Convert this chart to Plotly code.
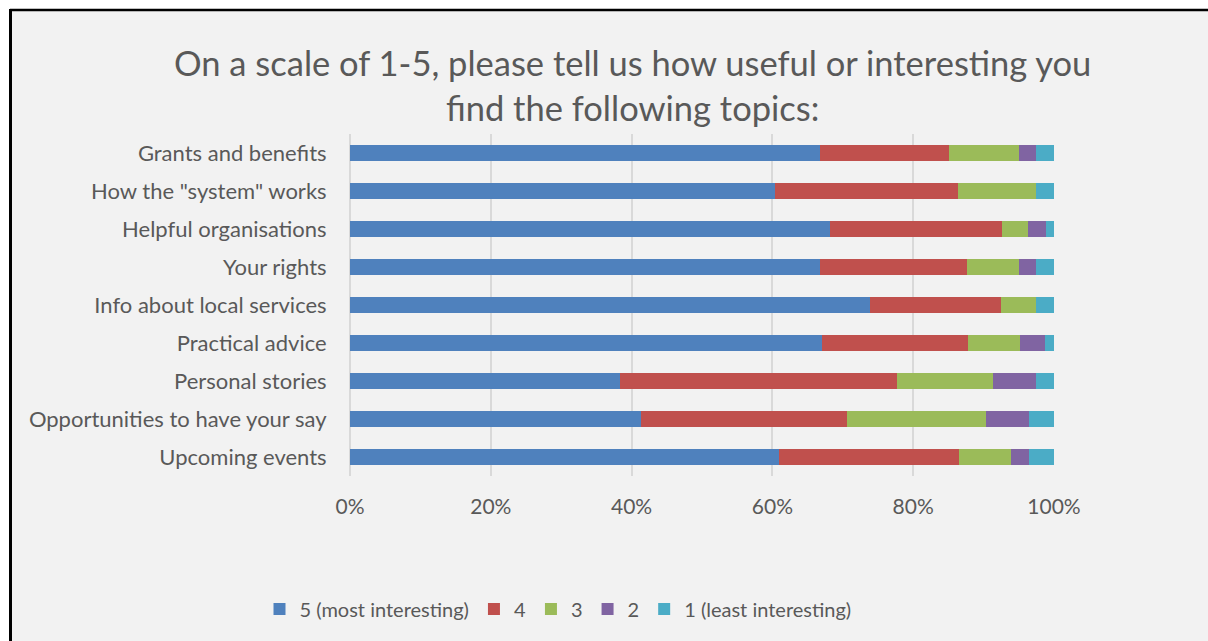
import plotly.graph_objects as go

# Survey topics, listed top to bottom
topics = [
    "Grants and benefits",
    'How the "system" works',
    "Helpful organisations",
    "Your rights",
    "Info about local services",
    "Practical advice",
    "Personal stories",
    "Opportunities to have your say",
    "Upcoming events",
]

# Share of responses (%) for each rating, per topic
rating_5 = [66.7, 60.4, 68.2, 66.7, 73.8, 67.0, 38.3, 41.4, 60.9]
rating_4 = [18.4, 26.0, 24.4, 20.9, 18.7, 20.8, 39.4, 29.2, 25.6]
rating_3 = [9.9, 11.1, 3.7, 7.4, 5.0, 7.3, 13.6, 19.7, 7.4]
rating_2 = [2.5, 0.0, 2.5, 2.5, 0.0, 3.6, 6.2, 6.1, 2.5]
rating_1 = [2.5, 2.5, 1.2, 2.5, 2.5, 1.3, 2.5, 3.6, 3.6]

series_names = ["5 (most interesting)", "4", "3", "2", "1 (least interesting)"]
series_values = [rating_5, rating_4, rating_3, rating_2, rating_1]
series_colors = ["#4f81bd", "#c0504d", "#9bbb59", "#8064a2", "#4bacc6"]

FONT = "Lato"
TEXT = "#595959"
W, H = 1208, 641
ML, MR, MT, MB = 350, 154, 134, 165
PW, PH = W - ML - MR, H - MT - MB


def px_x(x):
    return (x - ML) / PW


def px_y(y):
    return (H - MB - y) / PH


def font(size):
    return dict(family=FONT, size=size, color=TEXT)


fig = go.Figure()
for name, vals, col in zip(series_names, series_values, series_colors):
    fig.add_trace(go.Bar(
        y=topics, x=vals, name=name, orientation="h",
        marker=dict(color=col, line=dict(width=0)),
    ))

# chart area: light grey panel with a dark frame on its top and left edges
frame = [
    dict(type="rect", xref="paper", yref="paper", layer="below",
         x0=px_x(10), x1=px_x(W), y0=px_y(H), y1=px_y(10),
         fillcolor="#f2f2f2", line=dict(width=0)),
    dict(type="line", xref="paper", yref="paper", layer="below",
         x0=px_x(10), x1=px_x(W), y0=px_y(10), y1=px_y(10),
         line=dict(color="black", width=2.5)),
    dict(type="line", xref="paper", yref="paper", layer="below",
         x0=px_x(10.5), x1=px_x(10.5), y0=px_y(9), y1=px_y(H),
         line=dict(color="black", width=3)),
]

fig.update_layout(
    width=W, height=H,
    margin=dict(l=ML, r=MR, t=MT, b=MB, pad=0),
    barmode="stack", bargap=0.6,
    paper_bgcolor="white", plot_bgcolor="rgba(0,0,0,0)",
    font=font(20),
    showlegend=True,
    legend=dict(
        orientation="h", x=px_x(558), xanchor="center",
        y=px_y(609), yanchor="middle",
        font=font(20), bgcolor="rgba(0,0,0,0)",
        traceorder="normal", itemwidth=30,
    ),
    xaxis=dict(
        range=[0, 100], dtick=20, ticksuffix="%",
        showgrid=True, gridcolor="#d9d9d9", gridwidth=1.5,
        zeroline=True, zerolinecolor="#d9d9d9", zerolinewidth=1.5,
        showline=False, ticks="outside", ticklen=12,
        tickcolor="rgba(0,0,0,0)", tickfont=font(21),
        fixedrange=True,
    ),
    yaxis=dict(
        autorange="reversed", showgrid=False, showline=False,
        ticks="outside", ticklen=18, tickcolor="rgba(0,0,0,0)",
        tickfont=font(22), fixedrange=True,
    ),
    shapes=frame,
    annotations=[dict(
        text="On a scale of 1-5, please tell us how useful or interesting you<br>find the following topics:",
        xref="paper", yref="paper", x=px_x(632), y=px_y(85),
        xanchor="center", yanchor="middle", showarrow=False,
        font=font(34.5),
    )],
)

fig.write_html("out.html", config={"displayModeBar": False})
